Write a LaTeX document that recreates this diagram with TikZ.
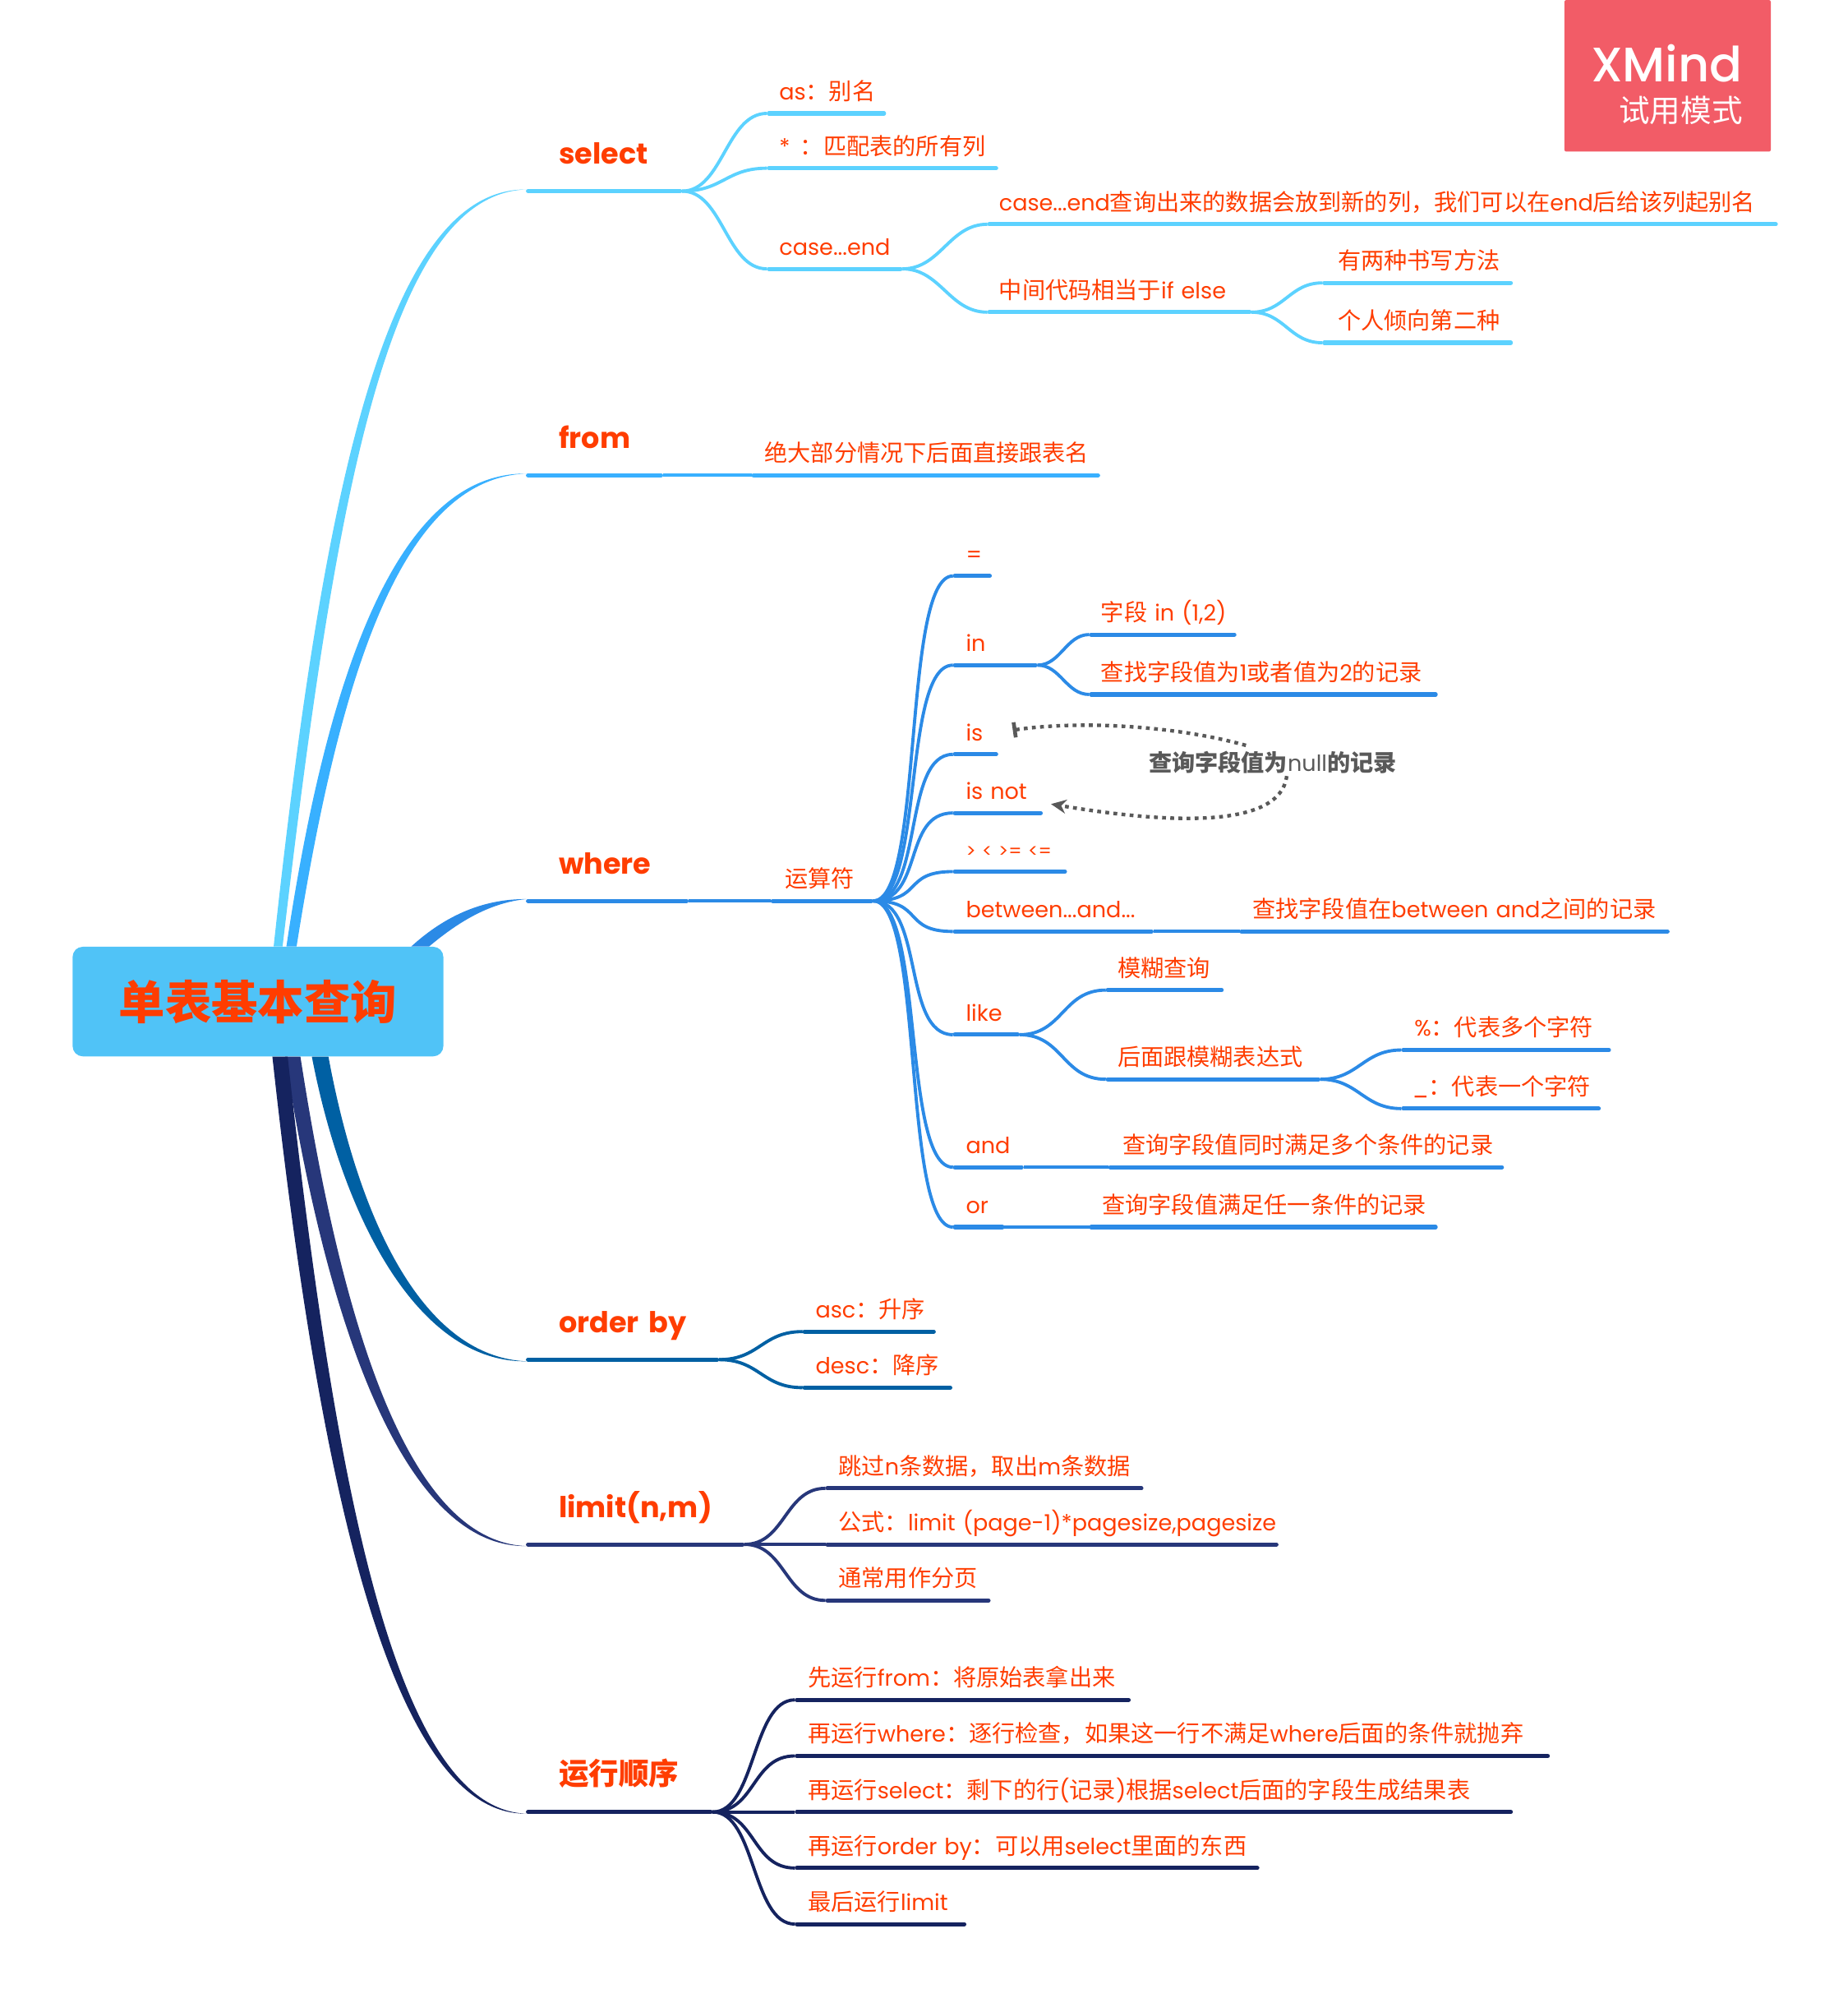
\documentclass[tikz,border=0pt]{standalone}
\usepackage{fontspec}
\setmainfont[Scale=0.97]{Poppins}
\newfontfamily\cjk[Scale=1.01]{Noto Sans CJK SC}
\newfontfamily\markfont[UprightFont=* Medium]{Poppins}
\newcommand{\zh}[1]{{\cjk #1}}
\usetikzlibrary{arrows.meta}
\definecolor{textred}{HTML}{FF3D00}
\definecolor{rootblue}{HTML}{50C3F7}
\definecolor{lineone}{HTML}{5CD2FF}
\definecolor{linetwo}{HTML}{38B0FF}
\definecolor{linethree}{HTML}{2B8AE6}
\definecolor{linefour}{HTML}{0060A3}
\definecolor{linefive}{HTML}{27377A}
\definecolor{linesix}{HTML}{15235F}
\definecolor{notegray}{HTML}{595959}
\definecolor{markred}{HTML}{F25C67}
\tikzset{
    rootbox/.style={fill=rootblue, rounded corners=8pt, minimum width=291pt, minimum height=86pt, inner sep=0pt, text=textred, font=\fontsize{36}{40}\selectfont},
    leaf/.style 2 args={anchor=south west, text width=#1pt, inner xsep=0pt, inner ysep=5.5pt, text height=15pt, text depth=5pt, text=textred, font=\fontsize{18}{22}\selectfont, execute at begin node={\hspace*{#2pt}}},
    branch/.style 2 args={leaf={#1}{25.5}, inner ysep=16pt, font=\fontsize{23.3}{28}\selectfont\bfseries},
    bar/.style={line width=3.3pt, line cap=round, shorten <=1.5pt, shorten >=1.5pt, #1},
    wire/.style={line width=2.5pt, #1},
    notewire/.style={notegray, line width=2.8pt, dash pattern=on 3pt off 3.4pt}
}
\begin{document}
\begin{tikzpicture}[x=1pt, y=-1pt]
    \useasboundingbox (0,0) rectangle (1450.5,1568);

    % Trial mark
    \node[fill=markred, rounded corners=1.5pt, minimum width=162pt, minimum height=119pt, inner sep=0pt] (mark) at (1309,59.5) {};
    \node[anchor=base east, inner sep=0pt, text=white, font=\fontsize{38}{42}\selectfont\markfont] (markname) at (1368,64) {XMind};
    \node[anchor=base east, inner sep=0pt, text=white, font=\fontsize{24}{28}\selectfont] (marktext) at (1368,96) {\zh{试用模式}};

    % Root
    \node[rootbox] (root) at (202.5,786) {\zh{\bfseries 单表基本查询}};

    % select
    \node[branch={122}{25}] (select) at (413,150) {select};
    \node[leaf={93}{9.5}] (as) at (602,89) {as\zh{：别名}};
    \node[leaf={181}{9.5}] (star) at (602,132) {*\hspace{8pt}\zh{：匹配表的所有列}};
    \node[leaf={106}{9.5}] (caseend) at (602,211) {case...end};
    \node[leaf={620}{9}] (casenew) at (775,176) {case...end\zh{查询出来的数据会放到新的列，我们可以在}end\zh{后给该列起别名}};
    \node[leaf={207}{9}] (casemid) at (775,245) {\zh{中间代码相当于}if else};
    \node[leaf={149}{12}] (casetwo) at (1038,222) {\zh{有两种书写方法}};
    \node[leaf={149}{12}] (casepick) at (1038,269) {\zh{个人倾向第二种}};

    % from
    \node[branch={107}{25}] (from) at (413,373) {from};
    \node[leaf={273}{10}] (fromnote) at (590,373) {\zh{绝大部分情况下后面直接跟表名}};

    % where
    \node[branch={127}{25}] (where) at (413,707) {where};
    \node[leaf={80}{11}] (ops) at (605,707) {\zh{运算符}};
    \node[leaf={30}{10}] (opeq) at (748,452) {=};
    \node[leaf={66}{10}] (opin) at (748,522) {in};
    \node[leaf={115}{9}] (inlist) at (855,498) {\zh{字段} in (1,2)};
    \node[leaf={273}{9}] (innote) at (855,545) {\zh{查找字段值为}1\zh{或者值为}2\zh{的记录}};
    \node[leaf={35}{10}] (opis) at (748,592) {is};
    \node[leaf={70}{10}] (opisnot) at (748,638) {is not};
    \node[leaf={89}{10}, font=\fontsize{15}{18}\selectfont] (opcmp) at (748,684) {> < >= <=};
    \node[leaf={157}{10}] (opbetween) at (748,731) {between...and...};
    \node[leaf={337}{10}] (betweennote) at (973,731) {\zh{查找字段值在}between and\zh{之间的记录}};
    \node[leaf={52}{10}] (oplike) at (748,812) {like};
    \node[leaf={92}{9}] (likefuzzy) at (868,777) {\zh{模糊查询}};
    \node[leaf={168}{9}] (likeexpr) at (868,847) {\zh{后面跟模糊表达式}};
    \node[leaf={164}{10}] (likemany) at (1100,824) {\%\zh{：代表多个字符}};
    \node[leaf={156}{8.5}] (likeone) at (1100,870) {\_\zh{：代表一个字符}};
    \node[leaf={55}{10}] (opand) at (748,916) {and};
    \node[leaf={310}{11}] (andnote) at (870,916) {\zh{查询字段值同时满足多个条件的记录}};
    \node[leaf={40}{10}] (opor) at (748,963) {or};
    \node[leaf={273}{10}] (ornote) at (855,963) {\zh{查询字段值满足任一条件的记录}};

    % order by
    \node[branch={151}{25}] (orderby) at (413,1067) {order by};
    \node[leaf={104}{10}] (asc) at (630,1045) {asc\zh{：升序}};
    \node[leaf={117}{10}] (desc) at (630,1089) {desc\zh{：降序}};

    % limit
    \node[branch={171}{25}] (limit) at (413,1212) {limit(n,m)};
    \node[leaf={249}{10}] (limitskip) at (648,1168) {\zh{跳过}n\zh{条数据，取出}m\zh{条数据}};
    \node[leaf={355}{10}] (limitform) at (648,1212) {\zh{公式：}limit (page-1)*pagesize,pagesize};
    \node[leaf={129}{10}] (limituse) at (648,1256) {\zh{通常用作分页}};

    % run order
    \node[branch={146}{25}] (runorder) at (413,1422) {\zh{运行顺序}};
    \node[leaf={263}{10}] (runfrom) at (624,1334) {\zh{先运行}from\zh{：将原始表拿出来}};
    \node[leaf={592}{10}] (runwhere) at (624,1378) {\zh{再运行}where\zh{：逐行检查，如果这一行不满足}where\zh{后面的条件就抛弃}};
    \node[leaf={563}{10}] (runselect) at (624,1422) {\zh{再运行}select\zh{：剩下的行}(\zh{记录})\zh{根据}select\zh{后面的字段生成结果表}};
    \node[leaf={364}{10}] (runorderby) at (624,1466) {\zh{再运行}order by\zh{：可以用}select\zh{里面的东西}};
    \node[leaf={134}{10}] (runlimit) at (624,1510) {\zh{最后运行}limit};

    % Thick branches out of the root
    \fill[lineone] ([xshift=158pt]root.north west) .. controls (252,400) and (300,147.6) .. ([yshift=1.3pt]select.south west) .. controls (303,152.4) and (262,400) .. ([xshift=165pt]root.north west) -- cycle;
    \fill[linetwo] ([xshift=168pt]root.north west) .. controls (258,520) and (315,370.6) .. ([yshift=1.3pt]from.south west) .. controls (318,375.4) and (268,520) .. ([xshift=176pt]root.north west) -- cycle;
    \fill[linethree] ([xshift=266pt]root.north west) .. controls (350,718) and (380,705.4) .. ([yshift=1.4pt]where.south west) .. controls (383,708.6) and (358,725) .. ([xshift=280pt]root.north west) -- cycle;
    \fill[linefour] ([xshift=188pt]root.south west) .. controls (270,960) and (330,1069.4) .. ([yshift=-1.3pt]orderby.south west) .. controls (333,1064.6) and (282,960) .. ([xshift=201pt]root.south west) -- cycle;
    \fill[linefive] ([xshift=167pt]root.south west) .. controls (258,1050) and (320,1214.4) .. ([yshift=-1.3pt]limit.south west) .. controls (323,1209.6) and (270,1050) .. ([xshift=179pt]root.south west) -- cycle;
    \fill[linesix] ([xshift=157pt]root.south west) .. controls (252,1180) and (310,1424.4) .. ([yshift=-1.3pt]runorder.south west) .. controls (313,1419.6) and (264,1180) .. ([xshift=169pt]root.south west) -- cycle;

    % Connectors, each with the underline of its child
    \draw[bar=lineone] (select.south west) -- (select.south east);
    \foreach \a/\b/\s in {select/as/32, select/star/32, select/caseend/32, caseend/casenew/30, caseend/casemid/30, casemid/casetwo/26, casemid/casepick/26} {
        \draw[wire=lineone] (\a.south east) .. controls +(\s,0) and +(-\s,0) .. (\b.south west);
        \draw[bar=lineone] (\b.south west) -- (\b.south east);
    }
    \draw[bar=linetwo] (from.south west) -- (from.south east);
    \draw[wire=linetwo] (from.south east) -- (fromnote.south west);
    \draw[bar=linetwo] (fromnote.south west) -- (fromnote.south east);
    \draw[bar=linethree] (where.south west) -- (where.south east);
    \foreach \a/\b/\s in {where/ops/30, ops/opeq/40, ops/opin/40, ops/opis/40, ops/opisnot/40, ops/opcmp/40, ops/opbetween/40, ops/oplike/40, ops/opand/40, ops/opor/40, opin/inlist/18, opin/innote/18, opbetween/betweennote/20, oplike/likefuzzy/34, oplike/likeexpr/34, likeexpr/likemany/30, likeexpr/likeone/30, opand/andnote/30, opor/ornote/30} {
        \draw[wire=linethree] (\a.south east) .. controls +(\s,0) and +(-\s,0) .. (\b.south west);
        \draw[bar=linethree] (\b.south west) -- (\b.south east);
    }
    \draw[bar=linefour] (orderby.south west) -- (orderby.south east);
    \foreach \a/\b/\s in {orderby/asc/32, orderby/desc/32} {
        \draw[wire=linefour] (\a.south east) .. controls +(\s,0) and +(-\s,0) .. (\b.south west);
        \draw[bar=linefour] (\b.south west) -- (\b.south east);
    }
    \draw[bar=linefive] (limit.south west) -- (limit.south east);
    \foreach \a/\b/\s in {limit/limitskip/32, limit/limitform/32, limit/limituse/32} {
        \draw[wire=linefive] (\a.south east) .. controls +(\s,0) and +(-\s,0) .. (\b.south west);
        \draw[bar=linefive] (\b.south west) -- (\b.south east);
    }
    \draw[bar=linesix] (runorder.south west) -- (runorder.south east);
    \foreach \a/\b/\s in {runorder/runfrom/34, runorder/runwhere/34, runorder/runselect/34, runorder/runorderby/34, runorder/runlimit/34} {
        \draw[wire=linesix] (\a.south east) .. controls +(\s,0) and +(-\s,0) .. (\b.south west);
        \draw[bar=linesix] (\b.south west) -- (\b.south east);
    }

    % Note on is and is not
    \node[inner sep=0pt, text=notegray, font=\fontsize{18}{22}\selectfont] (note) at (999,598) {\zh{\bfseries 查询字段值为}null\zh{\bfseries 的记录}};
    \coordinate (isend) at (795,573);
    \coordinate (isnotend) at (825,631);
    \draw[notewire, -{Bar[width=12pt,line width=3pt]}] (note.north) ++(-21,-4) .. controls (925,570) and (850,565) .. (isend);
    \draw[notewire, -{Stealth[length=12pt,width=11pt]}] (note.south) ++(11,2) .. controls (1005,650) and (920,647) .. (isnotend);
\end{tikzpicture}
\end{document}
